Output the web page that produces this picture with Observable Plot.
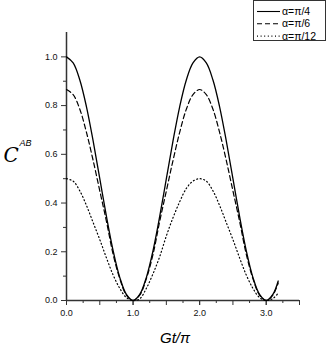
<!DOCTYPE html>
<html><head><meta charset="utf-8">
<script src="https://cdn.jsdelivr.net/npm/d3@7"></script>
<script src="https://cdn.jsdelivr.net/npm/@observablehq/plot@0.6"></script>
<style>
body{margin:0;background:#fff}
#wrap{position:relative;width:326px;height:349px;overflow:hidden}
#legend{position:absolute;left:253px;top:0px}
</style>
</head><body><div id="wrap"></div>
<script>
// Gt/π sample positions
const gt = [0,0.1,0.2,0.3,0.4,0.5,0.6,0.7,0.8,0.9,1.0,1.1,1.2,1.3,1.4,1.5,1.6,1.7,1.8,1.9,2.0,2.1,2.2,2.3,2.4,2.5,2.6,2.7,2.8,2.9,3.0,3.1,3.18];
// α=π/4 (solid)
const cPi4 = [1.00,0.975,0.905,0.795,0.655,0.50,0.345,0.205,0.095,0.025,0.00,0.025,0.095,0.205,0.345,0.50,0.655,0.795,0.905,0.975,1.00,0.975,0.905,0.795,0.655,0.50,0.345,0.205,0.095,0.025,0.00,0.025,0.08];
// α=π/6 (dashed)
const cPi6 = [0.866,0.845,0.785,0.69,0.575,0.45,0.325,0.19,0.09,0.022,0.00,0.022,0.09,0.19,0.325,0.45,0.575,0.69,0.785,0.845,0.866,0.845,0.785,0.69,0.575,0.45,0.325,0.19,0.09,0.022,0.00,0.022,0.072];
// α=π/12 (dotted)
const cPi12 = [0.50,0.49,0.45,0.39,0.32,0.25,0.175,0.105,0.05,0.012,0.00,0.007,0.05,0.11,0.18,0.265,0.34,0.405,0.46,0.49,0.50,0.49,0.45,0.39,0.32,0.25,0.175,0.105,0.05,0.012,0.00,0.008,0.03];

const seriesNames = ["α=π/4","α=π/6","α=π/12"];
const xTickLabels = [0,1,2,3];
const xMajorTicks = [0,0.5,1,1.5,2,2.5,3,3.5];
const xMinorTicks = [0.25,0.75,1.25,1.75,2.25,2.75,3.25];
const yTickLabels = [0,0.2,0.4,0.6,0.8,1.0];
const yMinorTicks = [0.1,0.3,0.5,0.7,0.9];

const rows = vals => gt.map((x, i) => ({x, y: vals[i]}));
const dashes = [null, "5,3", "1,2.6"];
const widths = [1.3, 1.2, 1.2];
const all = [cPi4, cPi6, cPi12];

const fmt = d3.format(".1f");
const chart = Plot.plot({
  width: 326, height: 349,
  marginLeft: 66, marginRight: 27, marginTop: 32, marginBottom: 49,
  style: {fontFamily: "'Liberation Sans', Arial, sans-serif", fontSize: "9px", color: "#111", background: "#fff"},
  x: {domain: [0, 3.5]},
  y: {domain: [0, 1.1]},
  marks: [
    Plot.axisX({ticks: xMinorTicks, tickSize: 3, tickFormat: () => "", label: null, stroke: "#333"}),
    Plot.axisX({ticks: xMajorTicks, tickSize: 5, tickFormat: () => "", label: null, stroke: "#333"}),
    Plot.axisX({ticks: xTickLabels, tickSize: 5, tickPadding: 4, tickFormat: fmt, label: null, stroke: "#333"}),
    Plot.axisY({ticks: yMinorTicks, tickSize: 3, tickFormat: () => "", label: null, stroke: "#333"}),
    Plot.axisY({ticks: yTickLabels, tickSize: 5, tickPadding: 4, tickFormat: fmt, label: null, stroke: "#333"}),
    Plot.ruleX([0], {y1: 0, y2: 1.1, stroke: "#333", strokeWidth: 1.5}),
    Plot.ruleY([0], {x1: 0, x2: 3.5, stroke: "#333", strokeWidth: 1.5}),
    ...all.map((vals, i) => Plot.line(rows(vals), {
      x: "x", y: "y", stroke: "#000", strokeWidth: widths[i],
      strokeDasharray: dashes[i], curve: "catmull-rom"
    })),
    Plot.text(["C"], {frameAnchor: "left", dx: -63, dy: -11, textAnchor: "start", lineAnchor: "middle",
      fontSize: 20, fontStyle: "italic", fontFamily: "'DejaVu Serif', serif", fill: "#000"}),
    Plot.text(["AB"], {frameAnchor: "left", dx: -47, dy: -23, textAnchor: "start", lineAnchor: "middle",
      fontSize: 9, fontStyle: "italic", fill: "#000"}),
    Plot.text(["Gt/π"], {frameAnchor: "bottom", dx: -8, dy: 38, lineAnchor: "middle",
      fontSize: 15, fontStyle: "italic", fill: "#000"})
  ]
});
const wrap = document.getElementById("wrap");
wrap.appendChild(chart);

// legend overlay
const lg = d3.select(wrap).append("svg").attr("id", "legend")
  .attr("width", 73).attr("height", 41);
lg.append("rect").attr("x", 0.5).attr("y", 0.5).attr("width", 72).attr("height", 40)
  .attr("fill", "#fff").attr("stroke", "#333").attr("stroke-width", 1);
seriesNames.forEach((name, i) => {
  const y = 11.5 + i * 12.3;
  lg.append("line").attr("x1", 4).attr("x2", 27).attr("y1", y).attr("y2", y)
    .attr("stroke", "#000").attr("stroke-width", 1.1)
    .attr("stroke-dasharray", dashes[i]);
  lg.append("text").attr("x", 29).attr("y", y).attr("dy", "0.35em")
    .attr("font-family", "'Liberation Sans', Arial, sans-serif").attr("font-size", 10.5)
    .attr("fill", "#000").text(name);
});
</script>
</body></html>
